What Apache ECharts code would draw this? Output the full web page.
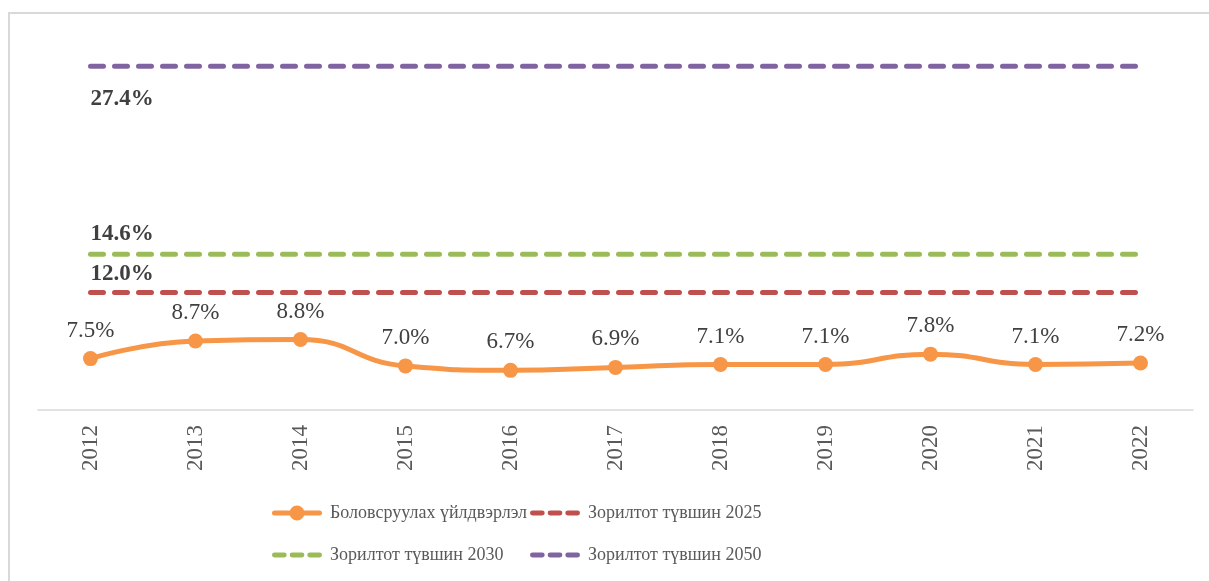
<!DOCTYPE html>
<html>
<head>
<meta charset="utf-8">
<script src="https://cdn.jsdelivr.net/npm/echarts@6/dist/echarts.min.js"></script>
<style>
  html, body { margin: 0; padding: 0; background: #fff; }
  #chart { width: 1209px; height: 581px; }
</style>
</head>
<body>
<div id="chart"></div>
<script>
// data
var years = ['2012', '2013', '2014', '2015', '2016', '2017', '2018', '2019', '2020', '2021', '2022'];
var manufacturing = [7.5, 8.7, 8.8, 7.0, 6.7, 6.9, 7.1, 7.1, 7.8, 7.1, 7.2];
var target2025 = 12.0;
var target2030 = 14.6;
var target2050 = 27.4;

var seriesNames = ['Боловсруулах үйлдвэрлэл', 'Зорилтот түвшин 2025', 'Зорилтот түвшин 2030', 'Зорилтот түвшин 2050'];
var FONT = '"Liberation Serif", "Times New Roman", serif';

// legend icons: thick line with a dot, and three rounded dashes
var ICON_LINE_DOT = 'path://M2.5,4.5h45a2.5,2.5 0 0 1 0,5h-45a2.5,2.5 0 0 1 0,-5z'
		+ 'M17.5,7a7.5,7.5 0 1 1 15,0a7.5,7.5 0 1 1 -15,0z';
var ICON_DASHES = 'path://M2.5,0h10a2.5,2.5 0 0 1 0,5h-10a2.5,2.5 0 0 1 0,-5z'
		+ 'M20.5,0h10a2.5,2.5 0 0 1 0,5h-10a2.5,2.5 0 0 1 0,-5z'
		+ 'M38.5,0h10a2.5,2.5 0 0 1 0,5h-10a2.5,2.5 0 0 1 0,-5z';

// flat target line across all years
function flat(v) {
	var arr = [];
	for (var i = 0; i < years.length; i++) {
		arr.push(v);
	}
	return arr;
}

function targetSeries(name, value, color, labelOffsetY) {
	return {
		name : name,
		type : 'line',
		data : flat(value),
		symbol : 'none',
		lineStyle : {
			color : color,
			width : 5,
			type : [13, 11],
			cap : 'round'
		},
		itemStyle : { color : color },
		// value label only at the first year
		markPoint : {
			silent : true,
			symbol : 'circle',
			symbolSize : 0,
			data : [ { coord : [ 0, value ], value : value } ],
			label : {
				show : true,
				position : 'right',
				distance : 0,
				offset : [ 0, labelOffsetY ],
				fontFamily : FONT,
				fontSize : 23,
				fontWeight : 'bold',
				color : '#404040',
				formatter : function(p) {
					return p.value.toFixed(1) + '%';
				}
			}
		},
		z : 2
	};
}

function legendBox(left, names) {
	return {
		orient : 'vertical',
		left : left,
		top : 504,
		padding : 0,
		itemWidth : 50,
		itemHeight : 15,
		itemGap : 24,
		symbolKeepAspect : true,
		data : names,
		textStyle : { fontFamily : FONT, fontSize : 18, color : '#595959', padding : [ 0, 0, 0, 3 ] }
	};
}

var chart = echarts.init(document.getElementById('chart'));

var option = {
	animation : false,
	backgroundColor : '#fff',
	graphic : [ {
		type : 'rect',
		shape : { x : 9, y : 13, width : 1400, height : 800 },
		style : { fill : 'none', stroke : '#d9d9d9', lineWidth : 2 },
		silent : true
	} ],
	grid : {
		left : 38,
		right : 16,
		top : 28,
		bottom : 171
	},
	legend : [
		legendBox(272, [ { name : seriesNames[0], icon : ICON_LINE_DOT }, { name : seriesNames[2], icon : ICON_DASHES } ]),
		legendBox(530, [ { name : seriesNames[1], icon : ICON_DASHES }, { name : seriesNames[3], icon : ICON_DASHES } ])
	],
	xAxis : {
		type : 'category',
		data : years,
		boundaryGap : true,
		axisLine : { lineStyle : { color : '#d9d9d9', width : 1.5 } },
		axisTick : { show : false },
		axisLabel : {
			rotate : 90,
			margin : 15,
			fontFamily : FONT,
			fontSize : 23,
			color : '#595959'
		}
	},
	yAxis : {
		type : 'value',
		min : 4,
		max : 30,
		show : false,
		splitLine : { show : false }
	},
	series : [ {
		name : seriesNames[0],
		type : 'line',
		data : manufacturing,
		smooth : 0.5,
		symbol : 'circle',
		symbolSize : 15,
		lineStyle : { color : '#F79646', width : 5 },
		itemStyle : { color : '#F79646' },
		label : {
			show : true,
			position : 'top',
			distance : 9,
			fontFamily : FONT,
			fontSize : 23,
			color : '#404040',
			formatter : function(p) {
				return p.value.toFixed(1) + '%';
			}
		},
		z : 3
	},
	targetSeries(seriesNames[1], target2025, '#C0504D', -18),
	targetSeries(seriesNames[2], target2030, '#9BBB59', -20),
	targetSeries(seriesNames[3], target2050, '#8064A2', 33) ]
};

chart.setOption(option);
</script>
</body>
</html>
